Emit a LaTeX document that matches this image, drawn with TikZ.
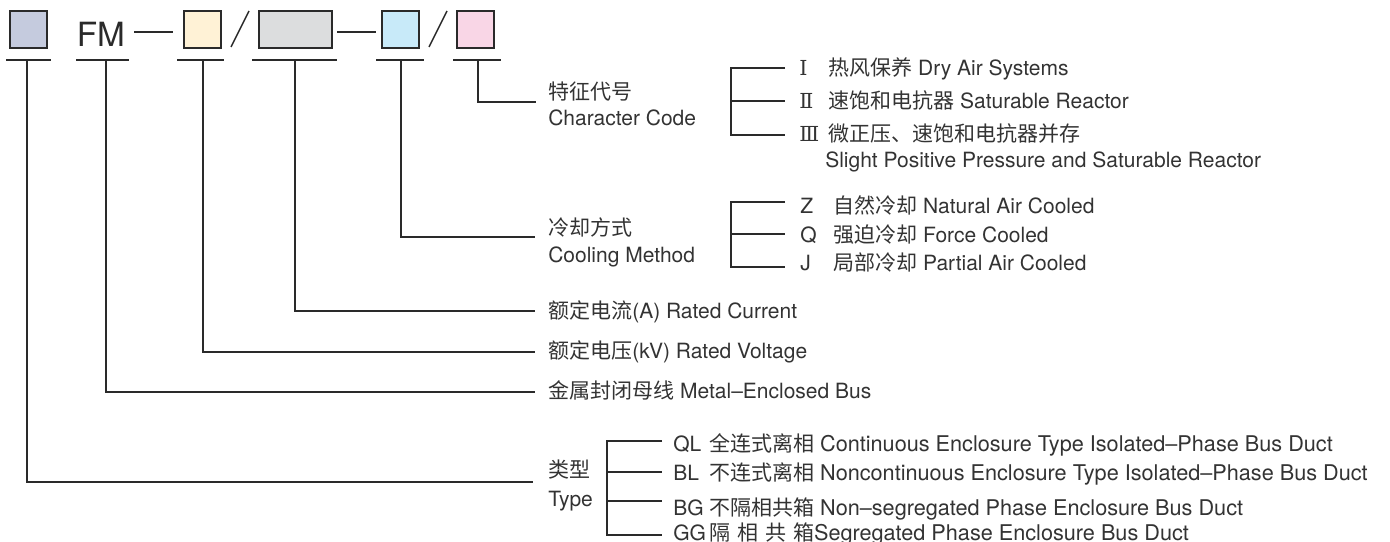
\documentclass[tikz,border=0pt]{standalone}
\usepackage{fontspec}
\setmainfont{TeX Gyre Heros}
\newfontfamily\cjkfont{Noto Sans CJK SC}
\newfontfamily\romfont{DejaVu Serif}
\newcommand\zh[1]{{\cjkfont #1}}
\newcommand\rom[1]{{\romfont\fontsize{15.5}{18}\selectfont #1}}
\newcommand\wideen[1]{{\fontsize{16.25}{19}\selectfont #1}}
\newcommand\tcode[1]{\makebox[27pt][l]{#1}}
\definecolor{txt}{HTML}{333333}
\definecolor{ln}{HTML}{2A2A2A}
\definecolor{cA}{RGB}{197,203,222}
\definecolor{cB}{RGB}{255,242,214}
\definecolor{cC}{RGB}{220,221,222}
\definecolor{cD}{RGB}{200,234,249}
\definecolor{cE}{RGB}{249,214,230}
\begin{document}
\begin{tikzpicture}[x=0.75pt,y=-0.75pt,
  codebox/.style={draw=ln, line width=1.1pt, inner sep=0, minimum height=27.75pt},
  lbl/.style={anchor=base west, inner sep=0, text=txt, font=\fontsize{15.75}{19}\selectfont},
  wire/.style={draw=ln, line width=0.8pt},
  sep/.style={draw=ln, line width=1.1pt}]
\useasboundingbox (0,0) rectangle (1390,542);
% code boxes
\node[codebox, fill=cA, minimum width=27.75pt] (b1) at (28.5,29.5) {};
\node[anchor=base west, inner sep=0, text=ln, font=\fontsize{25}{30}\selectfont] (fm) at (76.5,47) {FM};
\node[codebox, fill=cB, minimum width=27.75pt] (b2) at (202.5,29.5) {};
\node[codebox, fill=cC, minimum width=54.75pt] (b3) at (295.5,29.5) {};
\node[codebox, fill=cD, minimum width=27.75pt] (b4) at (400.5,29.5) {};
\node[codebox, fill=cE, minimum width=27.75pt] (b5) at (475.5,29.5) {};
% separators
\coordinate (d1a) at (134,32); \coordinate (d1b) at (173,32);
\coordinate (s1a) at (231,47); \coordinate (s1b) at (249,11);
\coordinate (d2a) at (337,32); \coordinate (d2b) at (376,32);
\coordinate (s2a) at (429,47); \coordinate (s2b) at (447,11);
\draw[sep] (d1a) -- (d1b);
\draw[sep] (d2a) -- (d2b);
\draw[sep] (s1a) -- (s1b);
\draw[sep] (s2a) -- (s2b);
% underlines
\coordinate (u1l) at (6,60);   \coordinate (u1r) at (51,60);  \coordinate (u1m) at (27,60);
\coordinate (u2l) at (76,60);  \coordinate (u2r) at (129,60); \coordinate (u2m) at (106,60);
\coordinate (u3l) at (177,60); \coordinate (u3r) at (224,60); \coordinate (u3m) at (203,60);
\coordinate (u4l) at (252,60); \coordinate (u4r) at (337,60); \coordinate (u4m) at (295,60);
\coordinate (u5l) at (376,60); \coordinate (u5r) at (424,60); \coordinate (u5m) at (401,60);
\coordinate (u6l) at (453,60); \coordinate (u6r) at (501,60); \coordinate (u6m) at (478,60);
\foreach \i in {1,...,6} {\draw[wire] (u\i l) -- (u\i r);}
% line ends near labels
\coordinate (e6) at (536,102);
\coordinate (e5) at (535,237);
\coordinate (e4) at (535,311);
\coordinate (e3) at (535,352);
\coordinate (e2) at (535,392);
\coordinate (e1) at (533,482);
\draw[wire] (u6m) |- (e6);
\draw[wire] (u5m) |- (e5);
\draw[wire] (u4m) |- (e4);
\draw[wire] (u3m) |- (e3);
\draw[wire] (u2m) |- (e2);
\draw[wire] (u1m) |- (e1);
% labels
\node[lbl] (ch1) at (548,99.5) {\zh{特征代号}};
\node[lbl] (ch2) at (548,126) {Character Code};
\node[lbl] (co1) at (548,235.5) {\zh{冷却方式}};
\node[lbl] (co2) at (548,262) {Cooling Method};
\node[lbl] (rc) at (548,318) {\zh{额定电流}(A) Rated Current};
\node[lbl] (rv) at (548,358.5) {\zh{额定电压}(kV) Rated Voltage};
\node[lbl] (mb) at (548,398.5) {\zh{金属封闭母线} Metal–Enclosed Bus};
\node[lbl] (ty1) at (548,477) {\zh{类型}};
\node[lbl] (ty2) at (548,506) {Type};
% character code bracket
\coordinate (ca) at (731,68); \coordinate (cb) at (731,101); \coordinate (cc) at (731,135);
\coordinate (ca2) at (785,68); \coordinate (cb2) at (785,101); \coordinate (cc2) at (785,135);
\draw[wire] (ca2) -- (ca) -- (cc) -- (cc2);
\draw[wire] (cb) -- (cb2);
\node[lbl] (i1) at (799,75.5) {\makebox[21.75pt][l]{\rom{Ⅰ}}\zh{热风保养} Dry Air Systems};
\node[lbl] (i2) at (799,108.5) {\makebox[21.75pt][l]{\rom{Ⅱ}}\zh{速饱和电抗器} Saturable Reactor};
\node[lbl] (i3) at (799,142) {\makebox[21.75pt][l]{\rom{Ⅲ}}\zh{微正压、速饱和电抗器并存}};
\node[lbl] (i3b) at (825,167) {Slight Positive Pressure and Saturable Reactor};
% cooling bracket
\coordinate (ka) at (731,202); \coordinate (kb) at (731,234); \coordinate (kc) at (731,267);
\coordinate (ka2) at (785,202); \coordinate (kb2) at (785,234); \coordinate (kc2) at (785,267);
\draw[wire] (ka2) -- (ka) -- (kc) -- (kc2);
\draw[wire] (kb) -- (kb2);
\node[lbl] (k1) at (800,213) {\makebox[24.75pt][l]{Z}\zh{自然冷却} Natural Air Cooled};
\node[lbl] (k2) at (800,242.5) {\makebox[24.75pt][l]{Q}\zh{强迫冷却} Force Cooled};
\node[lbl] (k3) at (800,270) {\makebox[24.75pt][l]{J}\zh{局部冷却} Partial Air Cooled};
% type bracket
\coordinate (ta) at (607,441); \coordinate (tb) at (607,472); \coordinate (tc) at (607,501); \coordinate (td) at (607,535);
\coordinate (ta2) at (662,441); \coordinate (tb2) at (662,472); \coordinate (tc2) at (662,501); \coordinate (td2) at (662,535);
\draw[wire] (ta2) -- (ta) -- (td) -- (td2);
\draw[wire] (tb) -- (tb2);
\draw[wire] (tc) -- (tc2);
\node[lbl] (t1) at (673,451) {\tcode{QL}\zh{全连式离相} \wideen{Continuous Enclosure Type Isolated–Phase Bus Duct}};
\node[lbl] (t2) at (673,480) {\tcode{BL}\zh{不连式离相} \wideen{Noncontinuous Enclosure Type Isolated–Phase Bus Duct}};
\node[lbl] (t3) at (673,515) {\tcode{BG}\zh{不隔相共箱} \wideen{Non–segregated Phase Enclosure Bus Duct}};
\node[lbl] (t4) at (673,540) {\tcode{GG}\zh{隔\hspace{5.2pt}相\hspace{5.2pt}共\hspace{5.2pt}箱}\wideen{Segregated Phase Enclosure Bus Duct}};
\end{tikzpicture}
\end{document}
